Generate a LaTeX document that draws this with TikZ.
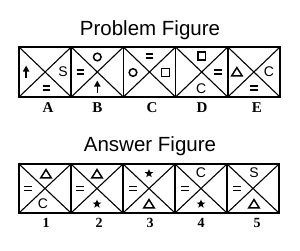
\documentclass[tikz,border=0pt]{standalone}
\usepackage{fontspec}
\setmainfont{Liberation Serif}
\setsansfont{Liberation Sans}
\usetikzlibrary{calc}
\begin{document}
\begin{tikzpicture}[x=1pt,y=-1pt,
  pcell/.style={draw, line width=1.6pt, minimum width=52.2pt, minimum height=50pt, inner sep=0pt, outer sep=0pt},
  acell/.style={draw, line width=1.6pt, minimum width=52pt, minimum height=49pt, inner sep=0pt, outer sep=0pt},
  diag/.style={line width=1.1pt},
  symline/.style={line width=1.5pt},
  titletext/.style={font=\sffamily\fontsize{20.5}{22}\selectfont, inner sep=0pt},
  symtext/.style={font=\sffamily\fontsize{14}{14}\selectfont, inner sep=0pt},
  labtext/.style={font=\bfseries\fontsize{15}{15}\selectfont, inner sep=0pt, anchor=base},
  numtext/.style={font=\bfseries\fontsize{14}{14}\selectfont, inner sep=0pt, anchor=base},
  eqsign/.pic={\draw[symline] (-3.8,-1.8) -- (3.8,-1.8) (-3.8,1.8) -- (3.8,1.8);},
  circsym/.pic={\draw[symline] (0,0) circle (3.8);},
  sqsym/.pic={\draw[symline] (-3.8,-3.8) rectangle (3.8,3.8);},
  trisym/.pic={\draw[symline, line join=miter] (-5.2,3.8) -- (0,-4.4) -- (5.2,3.8) -- cycle;},
  starsym/.pic={\fill (-90:4.6) -- (-54:1.9) -- (-18:4.6) -- (18:1.9) -- (54:4.6) -- (90:1.9) -- (126:4.6) -- (162:1.9) -- (198:4.6) -- (234:1.9) -- cycle;},
  arrowsym/.pic={\draw[line width=1.5pt] (0,6) -- (0,-1); \fill (-3.3,-0.5) -- (0,-6.3) -- (3.3,-0.5) -- cycle;}
]
\useasboundingbox (0,0) rectangle (300,250);

% titles
\node[titletext] (ptitle) at (150,30) {Problem Figure};
\node[titletext] (atitle) at (150,146.5) {Answer Figure};

% problem cells
\foreach \i/\x in {1/45.1,2/97.3,3/149.5,4/201.7,5/253.9}{
  \node[pcell] (p\i) at (\x,72) {};
  \draw[diag] (p\i.north west) -- (p\i.south east) (p\i.north east) -- (p\i.south west);
}
\draw[line width=2pt] (p1.north west) rectangle (p5.south east);

% answer cells
\foreach \i/\x in {1/45,2/97,3/149,4/201,5/253}{
  \node[acell] (a\i) at (\x,188.5) {};
  \draw[diag] (a\i.north west) -- (a\i.south east) (a\i.north east) -- (a\i.south west);
}
\draw[line width=2pt] (a1.north west) rectangle (a5.south east);

% Problem figure A
\pic at ([shift={(-19,0)}]p1.center) {arrowsym};
\node[symtext] (pAs) at ([shift={(18,0)}]p1.center) {S};
\pic at ([shift={(1.5,16)}]p1.center) {eqsign};
% B
\pic at ([shift={(0,-15)}]p2.center) {circsym};
\pic at ([shift={(-17,0)}]p2.center) {eqsign};
\pic at ([shift={(0,15)}]p2.center) {arrowsym};
% C
\pic at ([shift={(0,-16)}]p3.center) {eqsign};
\pic at ([shift={(-16.5,0.5)}]p3.center) {circsym};
\pic at ([shift={(16,0.5)}]p3.center) {sqsym};
% D
\pic at ([shift={(0,-16)}]p4.center) {sqsym};
\pic at ([shift={(16,0)}]p4.center) {eqsign};
\node[symtext] (pDc) at ([shift={(-0.5,16.5)}]p4.center) {C};
% E
\pic at ([shift={(-17,0)}]p5.center) {trisym};
\node[symtext] (pEc) at ([shift={(15,0)}]p5.center) {C};
\pic at ([shift={(0,16)}]p5.center) {eqsign};

% Answer 1
\pic at ([shift={(1,-14.5)}]a1.center) {trisym};
\pic at ([shift={(-17,0)}]a1.center) {eqsign};
\node[symtext] (a1c) at ([shift={(-2,15.5)}]a1.center) {C};
% 2
\pic at ([shift={(0,-14.5)}]a2.center) {trisym};
\pic at ([shift={(-17,0)}]a2.center) {eqsign};
\pic at ([shift={(0,15.5)}]a2.center) {starsym};
% 3
\pic at ([shift={(0,-15)}]a3.center) {starsym};
\pic at ([shift={(-16,0)}]a3.center) {eqsign};
\pic at ([shift={(0,15.5)}]a3.center) {trisym};
% 4
\node[symtext] (a4c) at ([shift={(0,-15.5)}]a4.center) {C};
\pic at ([shift={(-16,0)}]a4.center) {eqsign};
\pic at ([shift={(0,15.5)}]a4.center) {starsym};
% 5
\node[symtext] (a5s) at ([shift={(1,-15.5)}]a5.center) {S};
\pic at ([shift={(-16,0)}]a5.center) {eqsign};
\pic at ([shift={(1,15.5)}]a5.center) {trisym};

% labels
\node[labtext] (lA) at (48,112) {A};
\node[labtext] (lB) at (97.5,112) {B};
\node[labtext] (lC) at (152,112) {C};
\node[labtext] (lD) at (202,112) {D};
\node[labtext] (lE) at (257,112) {E};
\node[numtext] (n1) at (46,227) {1};
\node[numtext] (n2) at (99,227) {2};
\node[numtext] (n3) at (150,227) {3};
\node[numtext] (n4) at (201,227) {4};
\node[numtext] (n5) at (257,227) {5};
\end{tikzpicture}
\end{document}
